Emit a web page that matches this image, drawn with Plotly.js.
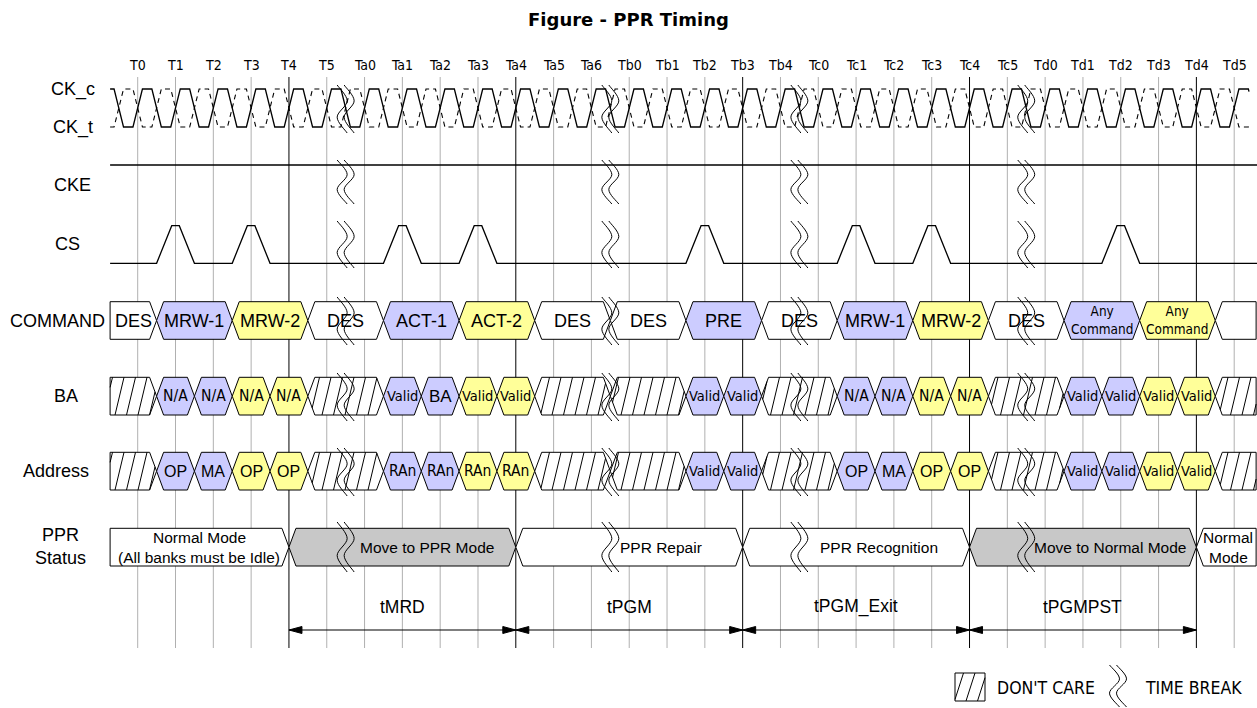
<!DOCTYPE html>
<html><head><meta charset="utf-8">
<script src="https://cdn.plot.ly/plotly-3.0.1.min.js"></script>
<style>html,body{margin:0;padding:0;background:#fff}#chart{width:1257px;height:708px}</style>
</head><body><div id="chart"></div>
<script>
// ---------------- data ----------------
const tickLabels = ['T0','T1','T2','T3','T4','T5','Ta0','Ta1','Ta2','Ta3','Ta4','Ta5','Ta6','Tb0','Tb1','Tb2','Tb3','Tb4','Tc0','Tc1','Tc2','Tc3','Tc4','Tc5','Td0','Td1','Td2','Td3','Td4','Td5'];
const markerTicks = ['T4','Ta4','Tb3','Tc4','Td4'];
const timeBreakAfter = ['T5','Ta6','Tb4','Tc5'];
const csPulseTicks = ['T1','T3','Ta1','Ta3','Tb2','Tc1','Tc3','Td2'];
const signalStart = -0.73, signalEnd = 29.58;   // in clock ticks

const cmdEdges  = [-0.73,0.5,2.5,4.5,6.5,8.5,10.5,12.5,14.5,16.5,18.5,20.5,22.5,24.5,26.5,28.5,29.58];
const cmdLabels = ['DES','MRW-1','MRW-2','DES','ACT-1','ACT-2','DES','DES','PRE','DES','MRW-1','MRW-2','DES','Any<br>Command','Any<br>Command',''];
const cmdKind   = ['none','first','second','none','first','second','none','none','first','none','first','second','none','first','second','none'];

const busEdges  = [-0.73,0.5,1.5,2.5,3.5,4.5,6.5,7.5,8.5,9.5,10.5,12.5,14.5,15.5,16.5,18.5,19.5,20.5,21.5,22.5,24.5,25.5,26.5,27.5,28.5,29.58];
const baLabels  = ['','N/A','N/A','N/A','N/A','','Valid','BA','Valid','Valid','','','Valid','Valid','','N/A','N/A','N/A','N/A','','Valid','Valid','Valid','Valid',''];
const addrLabels= ['','OP','MA','OP','OP','','RAn','RAn','RAn','RAn','','','Valid','Valid','','OP','MA','OP','OP','','Valid','Valid','Valid','Valid',''];
const busKind   = ['x','first','first','second','second','x','first','first','second','second','x','x','first','first','x','first','first','second','second','x','first','first','second','second','x'];

const pprEdges  = [-0.73,4,10,16,22,28,29.58];
const pprLabels = [['Normal Mode','(All banks must be Idle)'],['Move to PPR Mode'],['PPR Repair'],['PPR Recognition'],['Move to Normal Mode'],['Normal','Mode']];
const pprKind   = ['normal','transition','normal','normal','transition','normal'];

const timingLabels = ['tMRD','tPGM','tPGM_Exit','tPGMPST'];
const timingFrom   = ['T4','Ta4','Tb3','Tc4'];
const timingTo     = ['Ta4','Tb3','Tc4','Td4'];

// ---------------- layout / style ----------------
const W = 1257, H = 708, TW = 37.81, X0 = 137.7;
const fx = p => (p - X0) / TW;          // pixel column -> tick units
const dx = p => p / TW;                 // pixel width -> tick units
const tpx = t => X0 + t * TW;
const ti = l => tickLabels.indexOf(l);
const F  = 'Liberation Sans, Arial, sans-serif';
const FN = 'Liberation Sans Narrow, Arial Narrow, DejaVu Sans Condensed, Liberation Sans, sans-serif';
const COLORS = {none:'#ffffff', first:'rgb(204,204,255)', second:'rgb(255,255,153)', normal:'#ffffff', transition:'rgb(200,200,200)', x:'#ffffff'};
const ROW = {ckHi:89, ckLo:127, cke:165, csHi:225.7, csLo:263.3,
  cmd:[301.7,339.3], ba:[377.3,415], addr:[452.3,490], ppr:[528.3,566], arrow:630};
const BREAKS = [[85,133],[160,204],[221,268],[297,345],[373,421],[448,496],[522,572]];
const PPR_TEXT_X = [199, 427, 661, 879, 1110, 1228];   // pixel centres of status texts
const GRID = [77,648];
const rightEnd = fx(W);

const shapes = [], ann = [];
const P = v => v.toFixed(4);
function polyD(pts, close){ return 'M ' + pts.map(p => P(p[0]) + ',' + p[1].toFixed(2)).join(' L ') + (close ? ' Z' : ''); }
function addPath(d, line, fill){ shapes.push({type:'path', xref:'x', yref:'y', path:d, fillcolor: fill || 'rgba(0,0,0,0)', line: line, layer:'above'}); }
function text(x, y, t, size, fam, xanchor){ ann.push({x:x, y:y, xref:'x', yref:'y', text:t, showarrow:false, xanchor:xanchor||'center', yanchor:'middle', font:{family:fam||F, size:size, color:'#000'}}); }

// grid lines
let gGray = '', gBlack = '';
tickLabels.forEach((l, i) => {
  const seg = `M ${i},${GRID[0]} L ${i},${GRID[1]} `;
  if (markerTicks.includes(l)) gBlack += seg; else gGray += seg;
});
addPath(gGray, {color:'#b0b0b0', width:1});
addPath(gBlack, {color:'#000', width:1});

// tick labels
tickLabels.forEach((l, i) => text(i, 65, l, 14, FN));

// row labels
text(fx(73), ROW.ckHi, 'CK_c', 18);
text(fx(73), ROW.ckLo, 'CK_t', 18);
text(fx(72), 185, 'CKE', 18);
text(fx(67), 244, 'CS', 18);
text(fx(57), 320.5, 'COMMAND', 18);
text(fx(66), 396, 'BA', 18);
text(fx(56), 471, 'Address', 18);
text(fx(60), 546, 'PPR<br>Status', 18);

// clip segment to convex polygon (pixel coords)
function clip(p0, p1, poly){
  let t0 = 0, t1 = 1; const d = [p1[0]-p0[0], p1[1]-p0[1]];
  const c = poly.reduce((a,p)=>[a[0]+p[0]/poly.length, a[1]+p[1]/poly.length],[0,0]);
  for (let i = 0; i < poly.length; i++){
    const e0 = poly[i], e1 = poly[(i+1)%poly.length];
    let n = [e1[1]-e0[1], -(e1[0]-e0[0])];
    if (n[0]*(c[0]-e0[0]) + n[1]*(c[1]-e0[1]) < 0) n = [-n[0], -n[1]];
    const num = n[0]*(p0[0]-e0[0]) + n[1]*(p0[1]-e0[1]);
    const den = n[0]*d[0] + n[1]*d[1];
    if (Math.abs(den) < 1e-9){ if (num < 0) return null; continue; }
    const t = -num/den;
    if (den > 0) t0 = Math.max(t0, t); else t1 = Math.min(t1, t);
    if (t0 >= t1) return null;
  }
  return [[p0[0]+t0*d[0], p0[1]+t0*d[1]], [p0[0]+t1*d[0], p0[1]+t1*d[1]]];
}
function hatch(polyTick, top, bot){
  const poly = polyTick.map(p => [tpx(p[0]), p[1]]);
  const xs = poly.map(p => p[0]); const xa = Math.min(...xs), xb = Math.max(...xs);
  const sp = 11.5, s = 9; let d = '';
  for (let X = Math.floor((xa - s)/sp)*sp; X <= xb; X += sp){
    const r = clip([X, bot], [X+s, top], poly);
    if (r) d += `M ${P(fx(r[0][0]))},${r[0][1].toFixed(2)} L ${P(fx(r[1][0]))},${r[1][1].toFixed(2)} `;
  }
  return d;
}
function hexPts(a, b, t, bo, flatL, flatR){
  const d = dx(7), m = (t+bo)/2, pts = [];
  if (flatL) pts.push([a,bo],[a,t]); else pts.push([a,m],[a+d,t]);
  if (flatR) pts.push([b,t],[b,bo]); else pts.push([b-d,t],[b,m],[b-d,bo]);
  if (!flatL) pts.push([a+d,bo]);
  return pts;
}

// bus rows
function busRow(edges, labels, kinds, yr, fontFor){
  let hd = '';
  for (let i = 0; i < labels.length; i++){
    const a = edges[i], b = edges[i+1];
    const pts = hexPts(a, b, yr[0], yr[1], i === 0, i === labels.length-1);
    addPath(polyD(pts, true), {color:'#000', width:1}, COLORS[kinds[i]]);
    if (kinds[i] === 'x') hd += hatch(pts, yr[0], yr[1]);
    const lab = labels[i];
    if (lab){
      const f = fontFor(lab);
      text((a+b)/2, (yr[0]+yr[1])/2 + (f.dy||0), lab, f.size, f.fam);
    }
  }
  if (hd) addPath(hd, {color:'#000', width:1});
}
busRow(cmdEdges, cmdLabels, cmdKind, ROW.cmd, lab =>
  lab.indexOf('<br>') >= 0 ? {size:13.5, fam:FN, dy:-1} : {size:18, fam:F});
const busFont = {'N/A':{size:15.5,fam:FN}, 'Valid':{size:14.5,fam:FN}, 'BA':{size:17,fam:F}, 'OP':{size:16,fam:F}, 'MA':{size:16,fam:F}, 'RAn':{size:15.5,fam:FN}};
busRow(busEdges, baLabels, busKind, ROW.ba, lab => busFont[lab]);
busRow(busEdges, addrLabels, busKind, ROW.addr, lab => busFont[lab]);

// PPR status row
const brk = timeBreakAfter.map(l => ti(l) + 0.5);
for (let i = 0; i < pprLabels.length; i++){
  const a = pprEdges[i], b = pprEdges[i+1];
  const pts = hexPts(a, b, ROW.ppr[0], ROW.ppr[1], i === 0, i === pprLabels.length-1);
  addPath(polyD(pts, true), {color:'#000', width:1}, COLORS[pprKind[i]]);
  const cx = fx(PPR_TEXT_X[i]);
  const ls = pprLabels[i];
  if (ls.length === 1) text(cx, (ROW.ppr[0]+ROW.ppr[1])/2, ls[0], 15.5, F);
  else { text(cx, 537.5, ls[0], 15.5, F); text(cx, 557, ls[1], 15.5, F); }
}

// clocks
function clockY(x, hi, lo){
  const q = (((x + 0.125) % 1) + 1) % 1;
  if (q < 0.25) return lo + (hi-lo)*q/0.25;
  if (q < 0.5) return hi;
  if (q < 0.75) return hi + (lo-hi)*(q-0.5)/0.25;
  return lo;
}
function clockPts(s, e, hi, lo){
  const xs = [s];
  for (let k = Math.floor(s)-1; k <= Math.ceil(e)+1; k++)
    for (let m = 0; m < 4; m++){ const x = k - 0.125 + m*0.25; if (x > s && x < e) xs.push(x); }
  xs.push(e); xs.sort((u,v)=>u-v);
  return xs.map(x => [x, clockY(x, hi, lo)]);
}
const ckEnd = fx(1249);
addPath(polyD(clockPts(signalStart, ckEnd, ROW.ckLo, ROW.ckHi)), {color:'#000', width:1.1, dash:'5px,4px'});
addPath(polyD(clockPts(signalStart, ckEnd, ROW.ckHi, ROW.ckLo)), {color:'#000', width:1.3});

// CKE
addPath(polyD([[signalStart, ROW.cke],[rightEnd, ROW.cke]]), {color:'#000', width:1.3});
// CS
const csPts = [[signalStart, ROW.csLo]];
csPulseTicks.forEach(l => { const t = ti(l); csPts.push([t-0.5,ROW.csLo],[t-0.1,ROW.csHi],[t+0.1,ROW.csHi],[t+0.5,ROW.csLo]); });
csPts.push([rightEnd, ROW.csLo]);
addPath(polyD(csPts), {color:'#000', width:1.3});

// time breaks
function crPath(pts){
  let d = `M ${P(fx(pts[0][0]))},${pts[0][1].toFixed(2)}`;
  for (let i = 0; i < pts.length-1; i++){
    const p0 = pts[Math.max(i-1,0)], p1 = pts[i], p2 = pts[i+1], p3 = pts[Math.min(i+2,pts.length-1)];
    const c1 = [p1[0]+(p2[0]-p0[0])/6, p1[1]+(p2[1]-p0[1])/6];
    const c2 = [p2[0]-(p3[0]-p1[0])/6, p2[1]-(p3[1]-p1[1])/6];
    d += ` C ${P(fx(c1[0]))},${c1[1].toFixed(2)} ${P(fx(c2[0]))},${c2[1].toFixed(2)} ${P(fx(p2[0]))},${p2[1].toFixed(2)}`;
  }
  return d;
}
function breakSym(xc, yt, yb){
  const h = yb - yt; let d = '';
  [-3.5, 3.5].forEach(o => {
    d += crPath([[xc+o-5, yt],[xc+o+5, yt+0.33*h],[xc+o-5, yt+0.67*h],[xc+o+5, yb]]) + ' ';
  });
  addPath(d, {color:'#000', width:1});
}
brk.forEach(b => BREAKS.forEach(r => breakSym(tpx(b), r[0], r[1])));

// timing arrows
const AL = dx(13), AH = 3.5, ay = ROW.arrow;
timingLabels.forEach((lab, i) => {
  const a = ti(timingFrom[i]), b = ti(timingTo[i]);
  addPath(polyD([[a, ay],[b, ay]]), {color:'#000', width:1.2});
  addPath(polyD([[a,ay],[a+AL,ay-AH],[a+AL,ay+AH]], true), {color:'#000', width:1}, '#000');
  addPath(polyD([[b,ay],[b-AL,ay-AH],[b-AL,ay+AH]], true), {color:'#000', width:1}, '#000');
  text((a+b)/2, 606.5, lab, 17.5, F);
});

// legend
const lg = [[fx(955),701],[fx(955),673],[fx(985),673],[fx(985),701]];
addPath(polyD(lg, true), {color:'#000', width:1}, '#fff');
addPath(hatch(lg, 673, 701), {color:'#000', width:1});
text(fx(995), 688, "DON'T CARE", 17.5, FN, 'left');
breakSym(1118, 665, 707);
text(fx(1143), 688, 'TIME BREAK', 17.5, FN, 'left');

const layout = {
  width: W, height: H, margin:{l:0,r:0,t:0,b:0}, paper_bgcolor:'#fff', plot_bgcolor:'#fff',
  showlegend:false,
  title:{text:'<b>Figure - PPR Timing</b>', x:0.5, xanchor:'center', y:1-20/H, yanchor:'middle', font:{family:'DejaVu Sans, Verdana, sans-serif', size:18, color:'#000'}},
  xaxis:{range:[fx(0), fx(W)], visible:false, showgrid:false, zeroline:false, fixedrange:true},
  yaxis:{range:[H, 0], visible:false, showgrid:false, zeroline:false, fixedrange:true},
  shapes: shapes, annotations: ann
};
Plotly.newPlot('chart', [{x:[], y:[], type:'scatter', mode:'lines'}], layout, {staticPlot:true, displayModeBar:false});
</script></body></html>
